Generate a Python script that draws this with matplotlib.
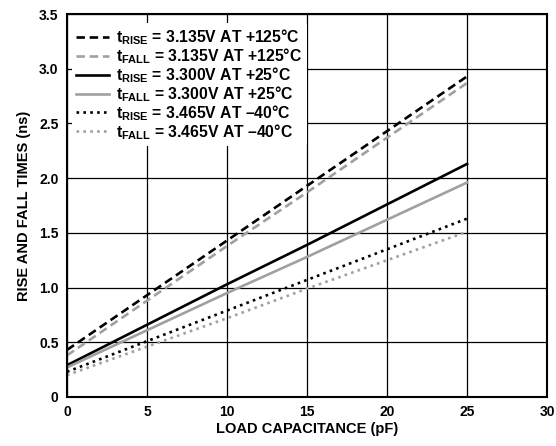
import matplotlib
matplotlib.use("Agg")
import matplotlib.pyplot as plt

# dados
load_pf = [0, 5, 10, 15, 20, 25]
rise_125 = [0.43, 0.93, 1.43, 1.93, 2.43, 2.93]
fall_125 = [0.38, 0.88, 1.38, 1.87, 2.37, 2.87]
rise_25 = [0.29, 0.66, 1.03, 1.39, 1.76, 2.13]
fall_25 = [0.27, 0.61, 0.95, 1.28, 1.62, 1.96]
rise_m40 = [0.23, 0.51, 0.79, 1.07, 1.35, 1.63]
fall_m40 = [0.20, 0.46, 0.72, 0.99, 1.25, 1.51]

labels = [
    "$t_{RISE}$ = 3.135V AT +125°C",
    "$t_{FALL}$ = 3.135V AT +125°C",
    "$t_{RISE}$ = 3.300V AT +25°C",
    "$t_{FALL}$ = 3.300V AT +25°C",
    "$t_{RISE}$ = 3.465V AT \u201340°C",
    "$t_{FALL}$ = 3.465V AT \u201340°C",
]
xticks = [0, 5, 10, 15, 20, 25, 30]
yticks = [0, 0.5, 1.0, 1.5, 2.0, 2.5, 3.0, 3.5]
yticklabels = ["0", "0.5", "1.0", "1.5", "2.0", "2.5", "3.0", "3.5"]

plt.rcParams["font.family"] = ["Liberation Sans", "DejaVu Sans"]
plt.rcParams["font.weight"] = "bold"
plt.rcParams["mathtext.fontset"] = "custom"
plt.rcParams["mathtext.rm"] = "Liberation Sans:bold"
plt.rcParams["mathtext.it"] = "Liberation Sans:bold"
plt.rcParams["mathtext.bf"] = "Liberation Sans:bold"

fig = plt.figure(figsize=(5.56, 4.46), dpi=100)
ax = fig.add_axes([0.1205, 0.1099, 0.8635, 0.8587])

gray = "#a0a0a0"
lw = 1.9
dash = (0, (3.2, 1.8))
dot = (0, (1.0, 1.6))
series = [
    (rise_125, "black", dash),
    (fall_125, gray, dash),
    (rise_25, "black", "-"),
    (fall_25, gray, "-"),
    (rise_m40, "black", dot),
    (fall_m40, gray, dot),
]
for (vals, c, ls), lab in zip(series, labels):
    ax.plot(load_pf, vals, color=c, linestyle=ls, linewidth=lw, label=lab)

ax.set_xlim(0, 30)
ax.set_ylim(0, 3.5)
ax.set_xticks(xticks)
ax.set_yticks(yticks)
ax.set_yticklabels(yticklabels)
ax.grid(True, color="black", linewidth=0.9)
ax.set_axisbelow(True)
ax.tick_params(length=0, labelsize=10, pad=6)
for s in ax.spines.values():
    s.set_linewidth(1.5)

ax.set_xlabel("LOAD CAPACITANCE (pF)", fontsize=10.5, fontweight="bold", labelpad=2)
ax.set_ylabel("RISE AND FALL TIMES (ns)", fontsize=10.5, fontweight="bold", labelpad=6)

leg = ax.legend(loc="upper left", bbox_to_anchor=(0.0, 0.99), frameon=True,
                fontsize=11.3, handlelength=2.1, handletextpad=0.4,
                labelspacing=-0.05, borderpad=0.3, borderaxespad=0.3)
leg.get_frame().set_edgecolor("none")
leg.get_frame().set_facecolor("white")
leg.get_frame().set_alpha(1.0)

fig.savefig("out.png", dpi=100)
